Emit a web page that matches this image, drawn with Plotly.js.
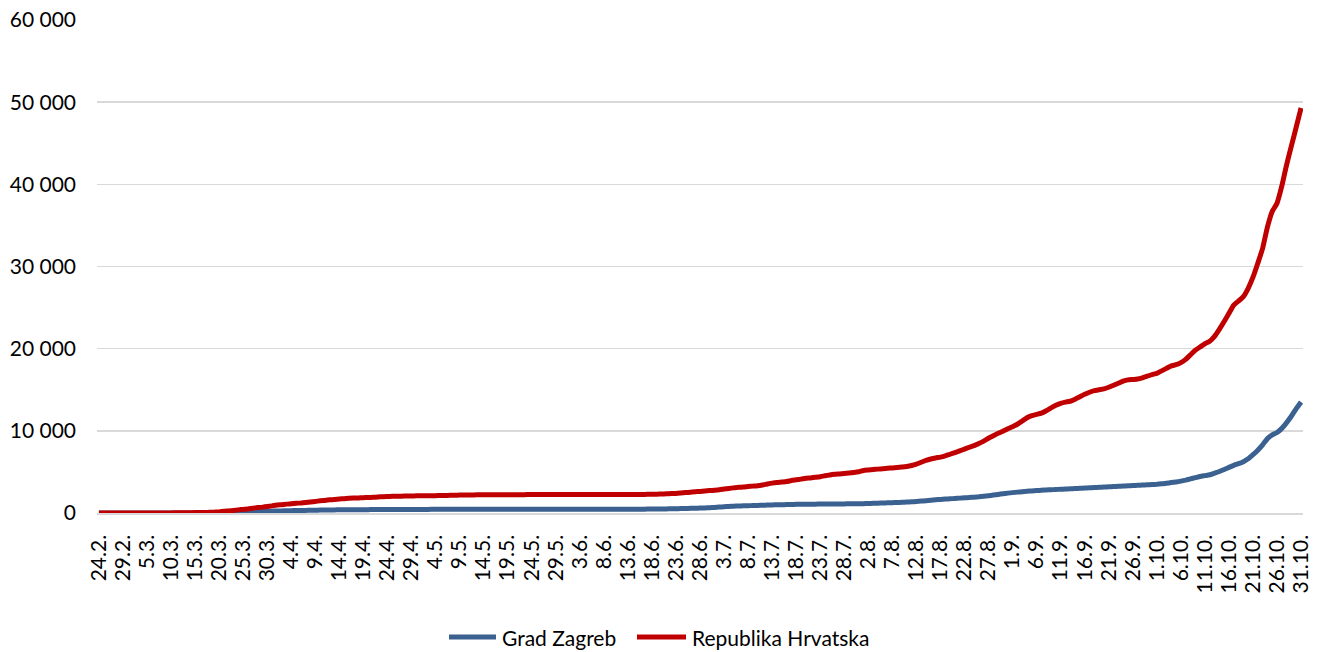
<!DOCTYPE html>
<html>
<head>
<meta charset="utf-8">
<script src="https://cdn.plot.ly/plotly-3.0.1.min.js"></script>
<style>
  html, body { margin: 0; padding: 0; background: #ffffff; }
  #chart { width: 1323px; height: 652px; }
</style>
</head>
<body>
<div id="chart"></div>
<script>
// Day labels, 24.2. – 31.10. (daily categories)
const monthStarts = [[2, 24, 29], [3, 1, 31], [4, 1, 30], [5, 1, 31], [6, 1, 30], [7, 1, 31], [8, 1, 31], [9, 1, 30], [10, 1, 31]];
const dates = [];
monthStarts.forEach(([m, d0, d1]) => { for (let d = d0; d <= d1; d++) dates.push(d + '.' + m + '.'); });

// Republika Hrvatska – cumulative cases
const hrvatska = [
  // 24.2.–29.2.
  0, 1, 3, 3, 5, 7,
  // March
  7, 9, 9, 10, 10, 11, 12, 12, 12, 14, 19, 27, 32, 38, 49, 57, 65, 81, 105, 128, 206, 254, 315, 382, 442, 495, 586, 657, 713, 790, 867,
  // April
  963, 1011, 1079, 1126, 1182, 1222, 1282, 1343, 1407, 1495, 1534, 1600, 1650, 1704, 1741, 1791, 1814, 1832, 1871, 1881, 1908, 1950, 1981, 2016, 2030, 2039, 2047, 2062, 2076, 2085,
  // May
  2088, 2096, 2101, 2112, 2119, 2125, 2147, 2161, 2176, 2187, 2196, 2205, 2209, 2213, 2221, 2222, 2224, 2226, 2228, 2228, 2232, 2234, 2237, 2243, 2243, 2244, 2244, 2244, 2244, 2244, 2245,
  // June
  2246, 2246, 2246, 2246, 2247, 2247, 2247, 2247, 2249, 2249, 2249, 2250, 2252, 2254, 2258, 2262, 2269, 2280, 2283, 2317, 2336, 2366, 2388, 2437, 2483, 2534, 2590, 2623, 2671, 2725,
  // July
  2777, 2831, 2912, 2990, 3060, 3126, 3151, 3220, 3272, 3325, 3416, 3532, 3639, 3722, 3775, 3835, 3953, 4039, 4121, 4217, 4272, 4345, 4422, 4530, 4634, 4715, 4760, 4820, 4860, 4930, 5020,
  // August
  5180, 5240, 5300, 5340, 5390, 5440, 5490, 5540, 5590, 5660, 5780, 5950, 6180, 6400, 6570, 6700, 6800, 6950, 7150, 7340, 7550, 7780, 8000, 8200, 8450, 8750, 9100, 9400, 9700, 9950, 10250,
  // September
  10500, 10800, 11200, 11600, 11850, 12000, 12150, 12450, 12800, 13100, 13350, 13500, 13600, 13850, 14150, 14450, 14700, 14900, 15000, 15100, 15300, 15550, 15800, 16050, 16200, 16250, 16300, 16450, 16650, 16850,
  // October
  17000, 17300, 17600, 17900, 18050, 18300, 18700, 19250, 19800, 20200, 20600, 20900, 21500, 22350, 23300, 24300, 25300, 25800, 26340, 27350, 28700, 30400, 32200, 34800, 36700, 37700, 39800, 42400, 44700, 47000, 49300
];

// Grad Zagreb – cumulative cases
const zagreb = [
  // 24.2.–29.2.
  0, 1, 1, 1, 1, 2,
  // March
  2, 3, 3, 3, 3, 4, 4, 4, 4, 5, 7, 10, 12, 14, 18, 22, 26, 30, 38, 45, 65, 80, 95, 110, 125, 140, 160, 175, 190, 205, 220,
  // April
  240, 255, 270, 285, 295, 305, 315, 325, 340, 350, 360, 370, 378, 385, 390, 395, 400, 404, 408, 410, 413, 416, 420, 424, 427, 430, 432, 434, 436, 438,
  // May
  440, 441, 442, 444, 445, 446, 448, 450, 452, 453, 454, 455, 456, 457, 458, 458, 459, 459, 460, 460, 460, 461, 461, 462, 462, 462, 462, 462, 463, 463, 463,
  // June
  463, 463, 463, 463, 464, 464, 464, 464, 465, 465, 465, 465, 466, 467, 468, 470, 472, 476, 480, 490, 498, 508, 520, 535, 550, 570, 585, 600, 620, 640,
  // July
  680, 720, 760, 800, 830, 850, 870, 890, 905, 920, 940, 960, 985, 1000, 1010, 1020, 1035, 1050, 1060, 1070, 1075, 1080, 1085, 1090, 1095, 1100, 1105, 1110, 1115, 1120, 1130,
  // August
  1140, 1160, 1180, 1200, 1220, 1240, 1260, 1280, 1300, 1330, 1360, 1400, 1450, 1500, 1560, 1610, 1650, 1690, 1730, 1770, 1810, 1850, 1890, 1930, 1970, 2030, 2100, 2180, 2260, 2350, 2420,
  // September
  2480, 2540, 2590, 2640, 2690, 2730, 2770, 2800, 2830, 2860, 2890, 2920, 2950, 2980, 3010, 3040, 3070, 3100, 3130, 3160, 3190, 3220, 3250, 3280, 3310, 3340, 3370, 3400, 3430, 3460,
  // October
  3500, 3560, 3620, 3700, 3780, 3880, 4000, 4150, 4300, 4450, 4550, 4650, 4850, 5050, 5300, 5550, 5800, 6000, 6250, 6600, 7100, 7650, 8300, 9050, 9500, 9800, 10300, 11000, 11800, 12700, 13500
];

const seriesNames = ['Grad Zagreb', 'Republika Hrvatska'];
const seriesColors = ['#3A6190', '#C00000'];
const yTickVals = [0, 10000, 20000, 30000, 40000, 50000, 60000];
const yTickText = ['0', '10 000', '20 000', '30 000', '40 000', '50 000', '60 000'];
const xTickVals = dates.filter((d, i) => i % 5 === 0);

const FONT = 'Lato, "Noto Sans", sans-serif';
const W = 1323, H = 652;
const M = { l: 97, r: 20, t: 20, b: 139 };
const PW = W - M.l - M.r, PH = H - M.t - M.b;
// pixel -> paper helpers (for the hand-placed legend only)
const px = v => (v - M.l) / PW;
const py = v => (H - M.b - v) / PH;

const traces = [zagreb, hrvatska].map((ys, k) => ({
  x: dates, y: ys, name: seriesNames[k], type: 'scatter', mode: 'lines',
  line: { color: seriesColors[k], width: 5, shape: 'spline', smoothing: 0.5 },
  hoverinfo: 'skip', showlegend: false
}));

// Legend: sample line + label, centred below the axis
const legendItems = [
  { x0: 449, x1: 496, tx: 500 },
  { x0: 637, x1: 686, tx: 690 }
];
const legendY = 637;
const shapes = legendItems.map((it, k) => ({
  type: 'line', xref: 'paper', yref: 'paper',
  x0: px(it.x0), x1: px(it.x1), y0: py(legendY), y1: py(legendY),
  line: { color: seriesColors[k], width: 5 }
}));
const annotations = legendItems.map((it, k) => ({
  xref: 'paper', yref: 'paper', x: px(it.tx), y: py(legendY),
  xanchor: 'left', yanchor: 'middle', showarrow: false,
  text: seriesNames[k], font: { family: FONT, size: 21, color: '#000000' }
}));

const layout = {
  width: W, height: H,
  margin: { l: M.l, r: M.r, t: M.t, b: M.b, autoexpand: false },
  paper_bgcolor: '#ffffff', plot_bgcolor: '#ffffff',
  font: { family: FONT, size: 21, color: '#000000' },
  showlegend: false,
  shapes: shapes,
  annotations: annotations,
  xaxis: {
    type: 'category',
    range: [-0.4, dates.length - 1 + 0.4],
    tickmode: 'array', tickvals: xTickVals, ticktext: xTickVals,
    tickangle: -90, ticks: '', ticklabelstandoff: 12,
    showgrid: false, zeroline: false, automargin: false,
    showline: true, linecolor: '#D9D9D9', linewidth: 1.5,
    tickfont: { family: FONT, size: 21, color: '#000000' },
    fixedrange: true
  },
  yaxis: {
    range: [0, 60000],
    tickmode: 'array', tickvals: yTickVals, ticktext: yTickText,
    ticks: '', ticklabelstandoff: 20, automargin: false,
    showgrid: true, gridcolor: '#D9D9D9', gridwidth: 1.5,
    zeroline: false, showline: false,
    tickfont: { family: FONT, size: 21, color: '#000000' },
    fixedrange: true
  }
};

Plotly.newPlot('chart', traces, layout, { displayModeBar: false, staticPlot: true });
</script>
</body>
</html>
